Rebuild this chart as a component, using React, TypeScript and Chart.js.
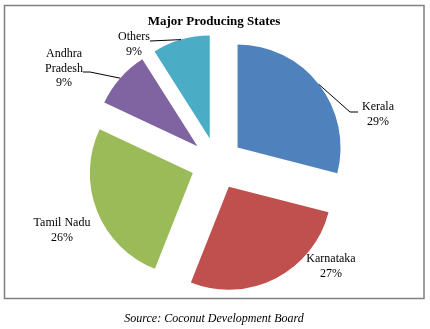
import React, { useEffect, useRef } from "react";
import { Chart, registerables } from "chart.js";

Chart.register(...registerables);

const states = ["Kerala", "Karnataka", "Tamil Nadu", "Andhra Pradesh", "Others"];
const shares = [29, 27, 26, 9, 9];
const colors = ["#4F81BD", "#C0504D", "#9BBB59", "#8064A2", "#4BACC6"];
const titleText = "Major Producing States";
const sourceText = "Source: Coconut Development Board";

const EXPLODE = 26;
const FONT = '"Liberation Serif", "Times New Roman", serif';

// label layout: text lines per slice (name lines + percentage), centre position and leader path
const labelLayout: { lines: string[]; x: number; y: number; leader: number[][] | null }[] = [
  { lines: ["Kerala"], x: 378, y: 107, leader: [[350, 112], [358, 112]] },
  { lines: ["Karnataka"], x: 331, y: 259, leader: null },
  { lines: ["Tamil Nadu"], x: 62, y: 223, leader: null },
  { lines: ["Andhra", "Pradesh"], x: 64, y: 54, leader: [[90, 72], [83, 72]] },
  { lines: ["Others"], x: 134, y: 37, leader: [[150, 41]] },
];

const explodePlugin = {
  id: "explodeAndLabels",
  beforeDatasetsDraw(chart: any) {
    const meta = chart.getDatasetMeta(0);
    meta.data.forEach((arc: any) => {
      const mid = (arc.startAngle + arc.endAngle) / 2;
      arc._ox = arc.x;
      arc._oy = arc.y;
      arc.x = arc._ox + Math.cos(mid) * EXPLODE;
      arc.y = arc._oy + Math.sin(mid) * EXPLODE;
    });
  },
  afterDatasetsDraw(chart: any) {
    const ctx = chart.ctx;
    const meta = chart.getDatasetMeta(0);
    const total = shares.reduce((a, b) => a + b, 0);
    ctx.save();
    ctx.font = `12px ${FONT}`;
    ctx.fillStyle = "#000";
    ctx.textAlign = "center";
    ctx.textBaseline = "middle";
    meta.data.forEach((arc: any, i: number) => {
      const lay = labelLayout[i];
      const pct = Math.round((shares[i] / total) * 100) + "%";
      const lines = [...lay.lines, pct];
      lines.forEach((t, k) => ctx.fillText(t, lay.x, lay.y + k * 14.5));
      if (lay.leader) {
        const mid = (arc.startAngle + arc.endAngle) / 2;
        const sx = arc.x + Math.cos(mid) * arc.outerRadius;
        const sy = arc.y + Math.sin(mid) * arc.outerRadius;
        ctx.beginPath();
        ctx.strokeStyle = "#000";
        ctx.lineWidth = 1;
        ctx.moveTo(sx, sy);
        lay.leader.forEach((p) => ctx.lineTo(p[0], p[1]));
        ctx.stroke();
      }
    });
    ctx.restore();
    meta.data.forEach((arc: any) => {
      arc.x = arc._ox;
      arc.y = arc._oy;
    });
  },
  afterDraw(chart: any) {
    const ctx = chart.ctx;
    ctx.save();
    ctx.strokeStyle = "#808080";
    ctx.lineWidth = 1.5;
    ctx.strokeRect(4.5, 5.5, 419.5, 293);
    ctx.fillStyle = "#000";
    ctx.textAlign = "center";
    ctx.textBaseline = "middle";
    ctx.font = `bold 13px ${FONT}`;
    ctx.fillText(titleText, 214, 22);
    ctx.font = `italic 12px ${FONT}`;
    ctx.fillText(sourceText, 214, 319);
    ctx.restore();
  },
};

export default function App() {
  const ref = useRef<HTMLCanvasElement | null>(null);
  useEffect(() => {
    if (!ref.current) return;
    const chart = new Chart(ref.current, {
      type: "pie",
      data: {
        labels: states,
        datasets: [
          {
            data: shares,
            backgroundColor: colors,
            borderWidth: 0,
            radius: 103,
          } as any,
        ],
      },
      options: {
        responsive: false,
        animation: false,
        events: [],
        layout: { padding: { left: 60, right: 56, top: 40, bottom: 42 } },
        plugins: {
          legend: { display: false },
          title: { display: false },
          tooltip: { enabled: false },
        },
      },
      plugins: [explodePlugin],
    });
    return () => chart.destroy();
  }, []);
  return (
    <div style={{ position: "fixed", left: 0, top: 0, width: 430, height: 329, background: "#fff" }}>
      <canvas ref={ref} width={430} height={329} style={{ width: 430, height: 329 }} />
    </div>
  );
}
